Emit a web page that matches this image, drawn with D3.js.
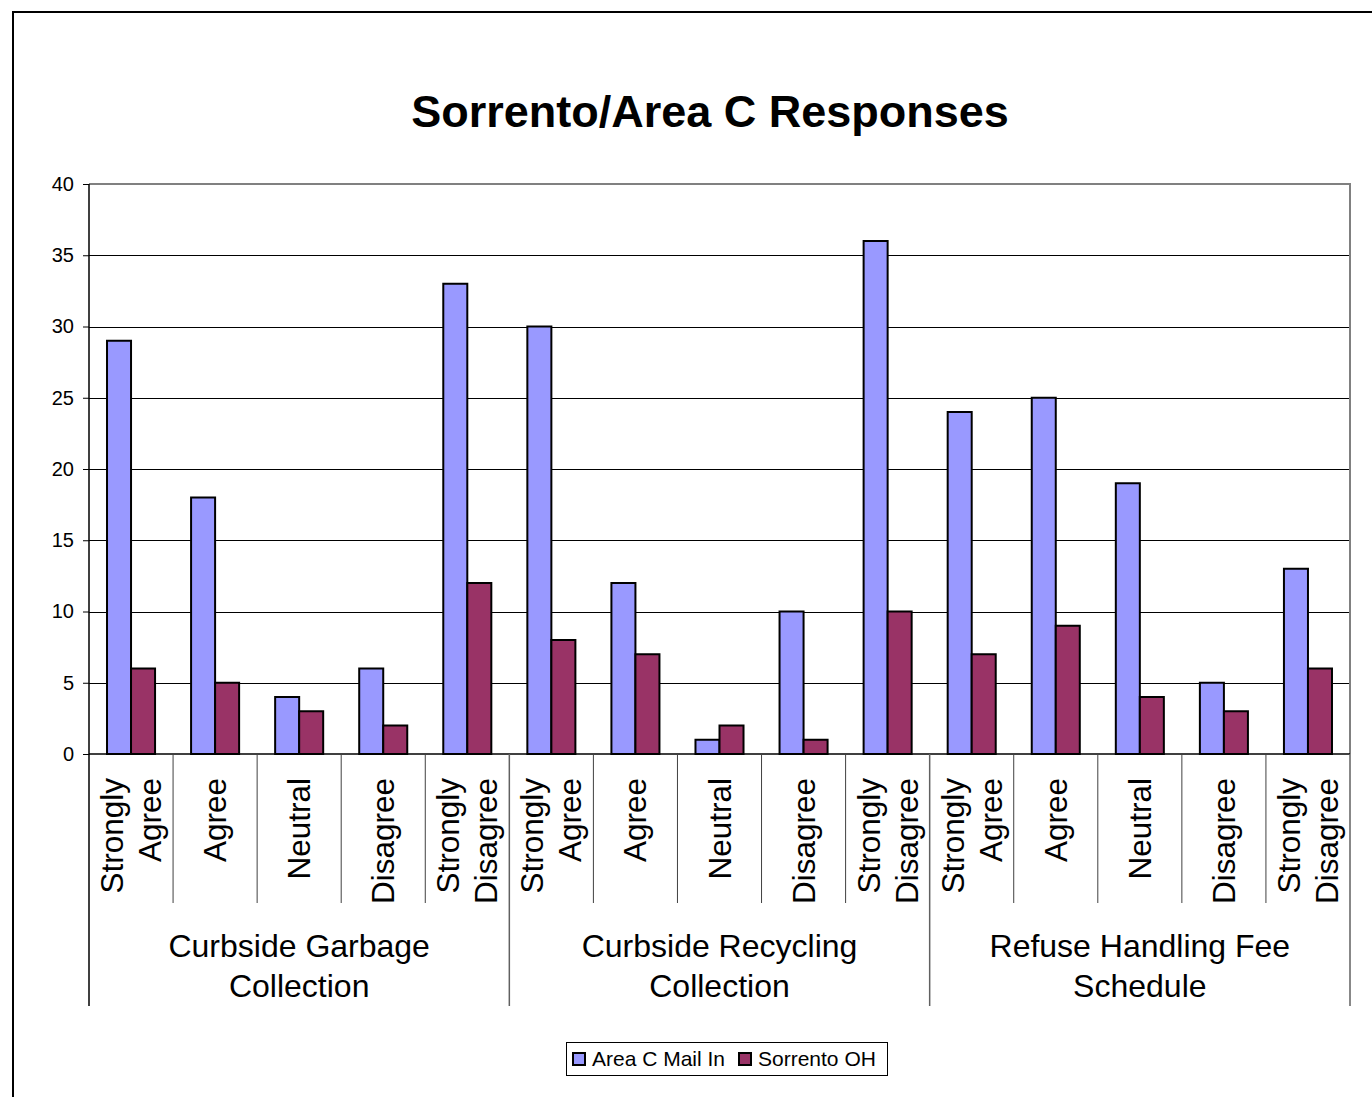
<!DOCTYPE html>
<html><head><meta charset="utf-8">
<script src="https://cdn.jsdelivr.net/npm/d3@7"></script>
<style>body{margin:0;background:#fff}svg{display:block;font-family:Arial,"Liberation Sans",sans-serif}</style>
</head><body><svg id="c" width="1372" height="1097"></svg>
<script>
const groups = ["Curbside Garbage|Collection", "Curbside Recycling|Collection", "Refuse Handling Fee|Schedule"];
const responses = ["Strongly|Agree", "Agree", "Neutral", "Disagree", "Strongly|Disagree"];
const seriesNames = ["Area C Mail In", "Sorrento OH"];
const areaC = [29, 18, 4, 6, 33, 30, 12, 1, 10, 36, 24, 25, 19, 5, 13];
const sorrento = [6, 5, 3, 2, 12, 8, 7, 2, 1, 10, 7, 9, 4, 3, 6];
const yTicks = [0, 5, 10, 15, 20, 25, 30, 35, 40];
const colors = ["#9999FF", "#993366"];

const svg = d3.select("#c");
const L = 89, R = 1350, T = 184, B = 754;
const cats = [];
groups.forEach((g, gi) => responses.forEach((r, ri) => cats.push({id: gi + "-" + ri, g: gi, label: r})));
const x = d3.scaleBand().domain(cats.map(c => c.id)).range([L, R]).paddingInner(0).paddingOuter(0);
const y = d3.scaleLinear().domain([0, 40]).range([B, T]);
const bw = x.bandwidth() / 3.5;
const xs = d3.scaleBand().domain([0, 1]).range([x.bandwidth() / 2 - bw, x.bandwidth() / 2 + bw]);

// outer frame
svg.append("rect").attr("x", 13).attr("y", 12).attr("width", 1400).attr("height", 1100)
  .attr("fill", "none").attr("stroke", "#000").attr("stroke-width", 2);

// title
svg.append("text").attr("x", 710).attr("y", 127).attr("text-anchor", "middle")
  .attr("font-size", 45).attr("font-weight", "bold").text("Sorrento/Area C Responses");

// gridlines
svg.append("g").selectAll("line").data(yTicks.filter(d => d > 0 && d < 40)).join("line")
  .attr("x1", L).attr("x2", R).attr("y1", d => Math.round(y(d)) + 0.5).attr("y2", d => Math.round(y(d)) + 0.5)
  .attr("stroke", "#000").attr("stroke-width", 1);
// plot border (top/right gray)
svg.append("path").attr("d", `M${L},${T}H${R}V${B}`).attr("fill", "none").attr("stroke", "#808080").attr("stroke-width", 2);

// bars
const data = cats.map((c, i) => ({id: c.id, vals: [areaC[i], sorrento[i]]}));
const cg = svg.append("g").selectAll("g").data(data).join("g").attr("transform", d => `translate(${x(d.id)},0)`);
cg.selectAll("rect").data(d => d.vals.map((v, k) => ({v, k}))).join("rect")
  .attr("x", d => xs(d.k)).attr("width", xs.bandwidth())
  .attr("y", d => y(d.v)).attr("height", d => B - y(d.v))
  .attr("fill", d => colors[d.k]).attr("stroke", "#000").attr("stroke-width", 2);

// y axis
const yAxis = d3.axisLeft(y).tickValues(yTicks).tickSize(6).tickPadding(9);
const ya = svg.append("g").attr("transform", `translate(${L},0)`).call(yAxis);
ya.select(".domain").remove();
ya.selectAll("line").attr("stroke", "#000");
ya.selectAll("text").attr("font-size", 20).attr("font-family", "Arial, 'Liberation Sans', sans-serif").attr("fill", "#000");
svg.append("line").attr("x1", L).attr("x2", L).attr("y1", T).attr("y2", 1006).attr("stroke", "#000").attr("stroke-width", 1.5);
svg.append("line").attr("x1", L).attr("x2", R).attr("y1", B).attr("y2", B).attr("stroke", "#000").attr("stroke-width", 1.5);

// category dividers
svg.append("g").selectAll("line").data(cats.map((c, i) => i).filter(i => i > 0 && i % 5 !== 0)).join("line")
  .attr("x1", i => x(cats[i].id)).attr("x2", i => x(cats[i].id)).attr("y1", B).attr("y2", 903)
  .attr("stroke", "#404040").attr("stroke-width", 1);
// group dividers
svg.append("g").selectAll("line").data([5, 10, 15]).join("line")
  .attr("x1", i => i < 15 ? x(cats[i].id) : R).attr("x2", i => i < 15 ? x(cats[i].id) : R)
  .attr("y1", B).attr("y2", 1006).attr("stroke", "#606060").attr("stroke-width", 1.5);

// category labels (rotated)
const lh = 38;
cats.forEach(c => {
  const lines = c.label.split("|");
  const cx = x(c.id) + x.bandwidth() / 2;
  lines.forEach((ln, li) => {
    const bx = cx + (li - (lines.length - 1) / 2) * lh + 11;
    svg.append("text").attr("transform", `translate(${bx},778) rotate(-90)`)
      .attr("text-anchor", "end").attr("font-size", 31.5).text(ln);
  });
});

// group labels
groups.forEach((g, gi) => {
  const x0 = x(gi + "-0"), x1 = x(gi + "-4") + x.bandwidth();
  g.split("|").forEach((ln, li) => {
    svg.append("text").attr("x", (x0 + x1) / 2).attr("y", 957 + li * 40).attr("text-anchor", "middle")
      .attr("font-size", 32).text(ln);
  });
});

// legend
const lg = svg.append("g");
lg.append("rect").attr("x", 566.5).attr("y", 1042.5).attr("width", 321).attr("height", 33)
  .attr("fill", "#fff").attr("stroke", "#000").attr("stroke-width", 1);
const lx = [573, 739];
seriesNames.forEach((s, i) => {
  lg.append("rect").attr("x", lx[i]).attr("y", 1053).attr("width", 12).attr("height", 12)
    .attr("fill", colors[i]).attr("stroke", "#000").attr("stroke-width", 2);
  lg.append("text").attr("x", lx[i] + 19).attr("y", 1066).attr("font-size", 21).text(s);
});
</script></body></html>
